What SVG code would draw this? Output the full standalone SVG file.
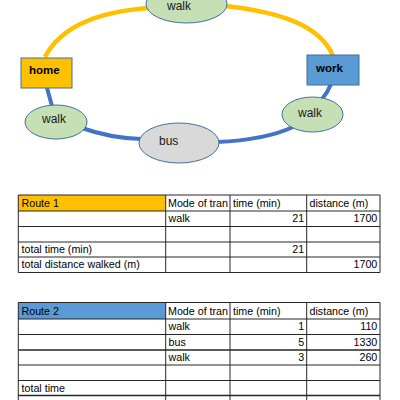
<svg xmlns="http://www.w3.org/2000/svg" width="400" height="400" viewBox="0 0 400 400">
<defs>
<style>
.lbl{font-family:"Liberation Sans",Arial,sans-serif;font-size:12px;fill:#1a1a1a}
.bold{font-family:"Liberation Sans",Arial,sans-serif;font-size:11.5px;font-weight:bold;fill:#000}
.walk{fill:#C5E0B4;stroke:#41719C;stroke-width:1}
.bus{fill:#D9D9D9;stroke:#41719C;stroke-width:1}
.box{stroke:#41719C;stroke-width:1}
.or{fill:none;stroke:#FFC000;stroke-width:4.5}
.bl{fill:none;stroke:#4472C4;stroke-width:4}
.t{font-family:"Liberation Sans",Arial,sans-serif;font-size:10.7px;fill:#000}
.r{text-anchor:end}
.g{stroke:#262626;stroke-width:1;fill:none}
</style>
</defs>
<rect width="400" height="400" fill="#fff"/>

<g id="connectors">
<path class="or" d="M45,57 C60,28 95,12 148,8"/>
<path class="or" d="M225,6 C280,12 320,25 333,56"/>
<path class="bl" d="M47,88 L52,106"/>
<path class="bl" d="M82,128 Q110,138 141,139"/>
<path class="bl" d="M217,142 Q265,140 293,127"/>
<path class="bl" d="M322,99 Q328,92 331,84"/>
</g>

<g id="walk-top">
<ellipse class="walk" cx="186.5" cy="4" rx="40.5" ry="19"/>
<text class="lbl" x="167" y="9.5">walk</text>
</g>
<g id="home">
<rect class="box" x="21" y="58" width="51" height="30" fill="#FFC000"/>
<text class="bold" x="29" y="74">home</text>
</g>
<g id="work">
<rect class="box" x="307" y="55" width="52" height="30" fill="#5B9BD5"/>
<text class="bold" x="316" y="72">work</text>
</g>
<g id="walk-left">
<ellipse class="walk" cx="56" cy="122" rx="31" ry="17"/>
<text class="lbl" x="42" y="123">walk</text>
</g>
<g id="bus">
<ellipse class="bus" cx="179" cy="143" rx="40" ry="20"/>
<text class="lbl" x="159" y="145">bus</text>
</g>
<g id="walk-right">
<ellipse class="walk" cx="312.5" cy="114.5" rx="30.5" ry="17.5"/>
<text class="lbl" x="298" y="117">walk</text>
</g>

<!-- Table 1 -->
<rect x="18.3" y="195" width="147.4" height="16" fill="#FFC000"/>
<g class="g">
<line x1="18.3" y1="195" x2="380" y2="195"/>
<line x1="18.3" y1="211" x2="380" y2="211"/>
<line x1="18.3" y1="226.5" x2="380" y2="226.5"/>
<line x1="18.3" y1="242" x2="380" y2="242"/>
<line x1="18.3" y1="257" x2="380" y2="257"/>
<line x1="18.3" y1="272.5" x2="380" y2="272.5"/>
<line x1="18.3" y1="195" x2="18.3" y2="272.5"/>
<line x1="165.7" y1="195" x2="165.7" y2="272.5"/>
<line x1="230" y1="195" x2="230" y2="272.5"/>
<line x1="306.7" y1="195" x2="306.7" y2="272.5"/>
<line x1="380" y1="195" x2="380" y2="272.5"/>
</g>
<text class="t" x="21.5" y="207">Route 1</text>
<text class="t" x="168" y="207">Mode of tran</text>
<text class="t" x="233" y="207">time (min)</text>
<text class="t" x="309.5" y="207">distance (m)</text>
<text class="t" x="168.5" y="222">walk</text>
<text class="t r" x="304.2" y="222">21</text>
<text class="t r" x="377.3" y="222">1700</text>
<text class="t" x="21.5" y="252.5">total time (min)</text>
<text class="t r" x="304.2" y="252.5">21</text>
<text class="t" x="21.5" y="268">total distance walked (m)</text>
<text class="t r" x="377.3" y="268">1700</text>

<!-- Table 2 -->
<rect x="18.3" y="302.5" width="147.4" height="16.5" fill="#5B9BD5"/>
<g class="g">
<line x1="18.3" y1="302.5" x2="380" y2="302.5"/>
<line x1="18.3" y1="319" x2="380" y2="319"/>
<line x1="18.3" y1="334.5" x2="380" y2="334.5"/>
<line x1="18.3" y1="350" x2="380" y2="350" stroke-width="1.5"/>
<line x1="18.3" y1="365" x2="380" y2="365"/>
<line x1="18.3" y1="380.5" x2="380" y2="380.5"/>
<line x1="18.3" y1="395.5" x2="380" y2="395.5" stroke-width="1.5"/>
<line x1="18.3" y1="302.5" x2="18.3" y2="400"/>
<line x1="165.7" y1="302.5" x2="165.7" y2="400"/>
<line x1="230" y1="302.5" x2="230" y2="400"/>
<line x1="306.7" y1="302.5" x2="306.7" y2="400"/>
<line x1="380" y1="302.5" x2="380" y2="400"/>
</g>
<text class="t" x="21.5" y="314.5">Route 2</text>
<text class="t" x="168" y="314.5">Mode of tran</text>
<text class="t" x="233" y="314.5">time (min)</text>
<text class="t" x="309.5" y="314.5">distance (m)</text>
<text class="t" x="168.5" y="330">walk</text>
<text class="t r" x="304.2" y="330">1</text>
<text class="t r" x="377.3" y="330">110</text>
<text class="t" x="168.5" y="345.5">bus</text>
<text class="t r" x="304.2" y="345.5">5</text>
<text class="t r" x="377.3" y="345.5">1330</text>
<text class="t" x="168.5" y="361">walk</text>
<text class="t r" x="304.2" y="361">3</text>
<text class="t r" x="377.3" y="361">260</text>
<text class="t" x="21.5" y="391.5">total time</text>
</svg>
